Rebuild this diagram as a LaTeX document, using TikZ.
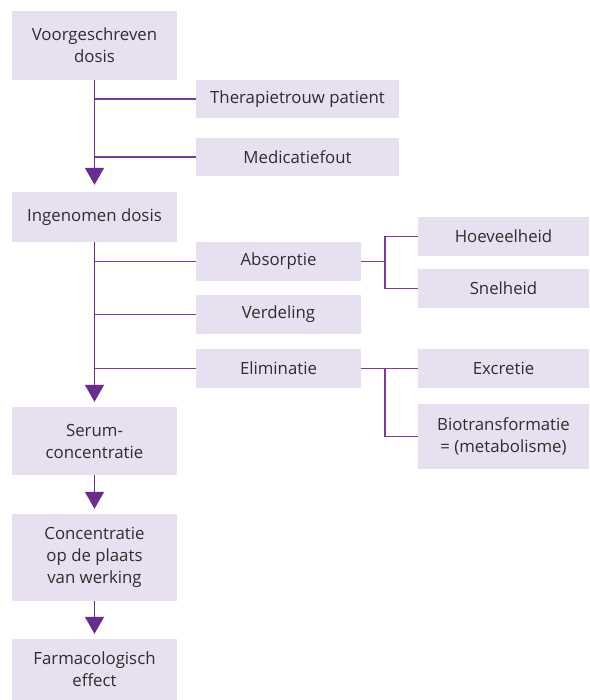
\documentclass[tikz,border=0pt]{standalone}
\usepackage{fontspec}
\setmainfont{Open Sans}
\usetikzlibrary{arrows.meta}
\definecolor{boxfill}{HTML}{E6E0F0}
\definecolor{lineclr}{HTML}{7A3B9A}
\definecolor{arrclr}{HTML}{6A2C8E}
\definecolor{txt}{HTML}{2E2E2E}
\begin{document}
\begin{tikzpicture}[x=1pt,y=-1pt,
  box/.style={fill=boxfill,draw=none,inner sep=0pt,align=center,text=txt,
    font=\fontsize{16.8}{22}\selectfont},
  ln/.style={draw=lineclr,line width=1.6pt},
  arr/.style={draw=arrclr,line width=1.6pt,-{Triangle[length=17pt,width=19pt]},color=arrclr}]
\useasboundingbox (0,0) rectangle (589,700);
\node[box,minimum width=165pt,minimum height=69pt] (vd) at (94.5,45.5) {Voorgeschreven\\dosis};
\node[box,minimum width=203pt,minimum height=38pt] (ther) at (297.5,99) {Therapietrouw patient};
\node[box,minimum width=203pt,minimum height=38pt] (med) at (297.5,157) {Medicatiefout};
\node[box,minimum width=165pt,minimum height=50pt] (ing) at (94.5,217) {Ingenomen dosis};
\node[box,minimum width=165pt,minimum height=39pt] (abs) at (278.5,261.5) {Absorptie};
\node[box,minimum width=165pt,minimum height=39pt] (ver) at (278.5,314.5) {Verdeling};
\node[box,minimum width=165pt,minimum height=39pt] (eli) at (278.5,368.5) {Eliminatie};
\node[box,minimum width=171pt,minimum height=39pt] (hoe) at (503.5,236.5) {Hoeveelheid};
\node[box,minimum width=171pt,minimum height=39pt] (sne) at (503.5,288.5) {Snelheid};
\node[box,minimum width=171pt,minimum height=39pt] (exc) at (503.5,368.5) {Excretie};
\node[box,minimum width=171pt,minimum height=65pt] (bio) at (503.5,436.5) {Biotransformatie\\= (metabolisme)};
\node[box,minimum width=165pt,minimum height=68pt] (ser) at (94.5,441) {Serum-\\concentratie};
\node[box,minimum width=165pt,minimum height=87pt] (con) at (94.5,557.5) {Concentratie\\op de plaats\\van werking};
\node[box,minimum width=165pt,minimum height=61pt] (far) at (94.5,669.5) {Farmacologisch\\effect};
% trunk 1
\draw[arr,shorten >=7pt] (vd.south) -- (ing.north);
\draw[ln] (vd.south |- ther.west) -- (ther.west);
\draw[ln] (vd.south |- med.west) -- (med.west);
% trunk 2
\draw[arr,shorten >=5pt] (ing.south) -- (ser.north);
\draw[ln] (ing.south |- abs.west) -- (abs.west);
\draw[ln] (ing.south |- ver.west) -- (ver.west);
\draw[ln] (ing.south |- eli.west) -- (eli.west);
% absorptie bracket
\coordinate (ab) at (385,261.5);
\draw[ln] (abs.east) -- (ab);
\draw[ln] (hoe.west) -- (ab |- hoe.west) -- (ab |- sne.west) -- (sne.west);
% eliminatie bracket
\coordinate (eb) at (385,368.5);
\draw[ln] (eli.east) -- (exc.west);
\draw[ln] (eb) -- (eb |- bio.west) -- (bio.west);
% lower arrows
\draw[arr,shorten >=5pt] (ser.south) -- (con.north);
\draw[arr,shorten >=5pt] (con.south) -- (far.north);
\end{tikzpicture}
\end{document}
